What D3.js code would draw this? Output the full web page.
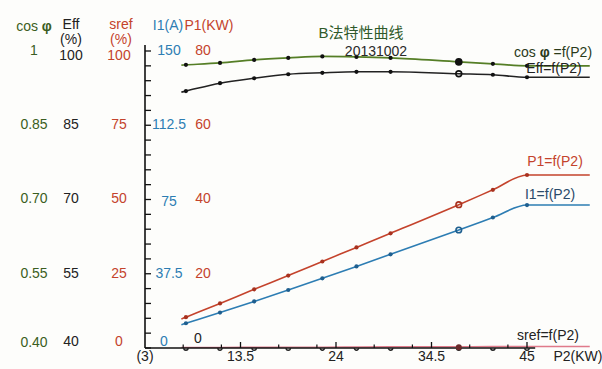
<!DOCTYPE html>
<html><head><meta charset="utf-8">
<script src="https://cdn.jsdelivr.net/npm/d3@7"></script>
<style>
html,body{margin:0;padding:0;background:#fdfdfb;}
svg{display:block;font-family:"Liberation Sans",Arial,Helvetica,sans-serif;}
</style></head><body>
<script>
// ---------- data ----------
const p2 = [7.5, 11.25, 15, 18.75, 22.5, 26.25, 30, 37.5, 41.25, 45];
const cosPhi = [0.972, 0.976, 0.982, 0.986, 0.989, 0.988, 0.986, 0.978, 0.974, 0.970];
const eff = [91.9, 93.5, 94.5, 95.3, 95.6, 95.8, 95.8, 95.4, 95.2, 94.7];
const p1 = [8.3, 12.0, 15.8, 19.5, 23.3, 27.1, 30.9, 38.6, 42.6, 46.6];
const i1 = [12.5, 17.9, 23.5, 29.3, 35.2, 41.2, 47.3, 59.6, 65.9, 72.2];
const sref = [0.2, 0.2, 0.25, 0.3, 0.3, 0.35, 0.4, 0.45, 0.5, 0.5];
const ratedIndex = 7;

const xTickVals = [3, 13.5, 24, 34.5, 45];
const xTickLabels = ["(3)", "13.5", "24", "34.5", "45"];
const cosTicks = ["1", "0.85", "0.70", "0.55", "0.40"];
const effTicks = ["100", "85", "70", "55", "40"];
const srefTicks = ["100", "75", "50", "25", "0"];
const i1Ticks = ["150", "112.5", "75", "37.5", "0"];
const p1Ticks = ["80", "60", "40", "20", "0"];

const title = "B法特性曲线";
const subtitle = "20131002";

// ---------- setup ----------
const W = 602, H = 369;
const svg = d3.select("body").append("svg").attr("width", W).attr("height", H);
svg.append("rect").attr("width", W).attr("height", H).attr("fill", "#fdfdfb");

const x = d3.scaleLinear().domain([3, 45]).range([145, 527]);
const yTop = 51, yBot = 348;
const yCos = d3.scaleLinear().domain([0.4, 1]).range([yBot, yTop]);
const yEff = d3.scaleLinear().domain([40, 100]).range([yBot, yTop]);
const ySref = d3.scaleLinear().domain([0, 100]).range([yBot, yTop]);
const yI = d3.scaleLinear().domain([0, 150]).range([yBot, yTop]);
const yP = d3.scaleLinear().domain([0, 80]).range([yBot, yTop]);

const C = {green:"#3b5d22", cosLine:"#557e26", black:"#222", red:"#c4432c", blue:"#2d7db3", pink:"#e07a8a"};

// ---------- axes ----------
const axisG = svg.append("g");
axisG.append("line").attr("x1", 145).attr("x2", 145).attr("y1", 45).attr("y2", yBot)
  .attr("stroke", "#111").attr("stroke-width", 1.6);
axisG.selectAll(".yt").data(d3.range(0, 150 + 0.01, 7.5)).join("line")
  .attr("x1", 145).attr("x2", 151).attr("y1", d => yI(d)).attr("y2", d => yI(d))
  .attr("stroke", "#111").attr("stroke-width", 1.3);

const extEnd = 51.9, extStart = 7.0;
function series(vals){
  const pts = p2.map((v,i)=>[v, vals[i]]);
  const s = (pts[1][1]-pts[0][1])/(pts[1][0]-pts[0][0]);
  const first = [extStart, pts[0][1] - s*(pts[0][0]-extStart)];
  const last = [extEnd, pts[pts.length-1][1]];
  return [first, ...pts, last];
}
function drawCurve(vals, ys, color, w){
  const line = d3.line().x(d=>x(d[0])).y(d=>ys(d[1])).curve(d3.curveMonotoneX);
  svg.append("path").attr("d", line(series(vals))).attr("fill","none")
    .attr("stroke", color).attr("stroke-width", w || 1.6);
}
drawCurve(sref, ySref, C.pink, 1.4);

axisG.append("line").attr("x1", 145).attr("x2", x(45.9)).attr("y1", yBot).attr("y2", yBot)
  .attr("stroke", "#111").attr("stroke-width", 1.6);
svg.node().appendChild(axisG.node());
axisG.selectAll(".xt").data(xTickVals.slice(1)).join("line")
  .attr("x1", d=>x(d)).attr("x2", d=>x(d)).attr("y1", yBot).attr("y2", yBot-6)
  .attr("stroke","#111").attr("stroke-width",1.3);
const minor = [];
xTickVals.slice(0,4).forEach(v => { minor.push(v+4.2, v+8.4); });
axisG.selectAll(".xm").data(minor).join("line")
  .attr("x1", d=>x(d)).attr("x2", d=>x(d)).attr("y1", yBot).attr("y2", yBot-3.5)
  .attr("stroke","#111").attr("stroke-width",1.2);
svg.selectAll(".xl").data(xTickVals).join("text")
  .attr("x", d=>x(d)).attr("y", 361).attr("text-anchor","middle")
  .attr("font-size", 14).attr("fill", "#222").text((d,i)=>xTickLabels[i]);
svg.append("text").attr("x", 578).attr("y", 361).attr("text-anchor","middle")
  .attr("font-size", 14).attr("fill","#222").text("P2(KW)");

svg.selectAll(".su").data(p2).join("path")
  .attr("d", d => { const px = x(d), py = ySref(0); const p = d3.path();
      p.moveTo(px-2.2, py); p.arc(px, py, 2.2, Math.PI, 0, true); return p.toString(); })
  .attr("fill","none").attr("stroke","#222").attr("stroke-width",1.4);
svg.append("circle").attr("cx", x(p2[ratedIndex])).attr("cy", ySref(sref[ratedIndex]) + 0.5)
  .attr("r", 3.0).attr("fill", "#6a2a2a");

// ---------- curves ----------
drawCurve(cosPhi, yCos, C.cosLine, 1.7);
drawCurve(eff, yEff, C.black, 1.6);
drawCurve(p1, yP, C.red, 1.6);
drawCurve(i1, yI, C.blue, 1.6);

function drawDots(vals, ys, fill, big, hollowBig){
  svg.selectAll(null).data(p2).join("circle")
    .attr("cx", d=>x(d)).attr("cy", (d,i)=>ys(vals[i]))
    .attr("r", (d,i)=> i===ratedIndex ? big : 2.1)
    .attr("fill", (d,i)=> (i===ratedIndex && hollowBig) ? "none" : fill)
    .attr("stroke", fill).attr("stroke-width", (d,i)=> i===ratedIndex ? 1.6 : 0);
}
drawDots(cosPhi, yCos, "#111", 3.0, false);
drawDots(eff, yEff, "#111", 2.9, true);
drawDots(p1, yP, "#a8321f", 2.8, true);
drawDots(i1, yI, "#1f5f8f", 2.8, true);

// ---------- left tick columns ----------
const rowVals = [150, 112.5, 75, 37.5, 0];
function col(labels, cx, color, size, dy){
  return svg.selectAll(null).data(labels).join("text")
    .attr("x", cx).attr("y", (d,i)=> yI(rowVals[i]) + (dy ? dy[i] : 0))
    .attr("text-anchor","middle").attr("dominant-baseline","central")
    .attr("font-size", size).attr("fill", color).text(d=>d);
}
col(cosTicks, 34, C.green, 14, [-1,-1,-2,-1,-6]);
col(effTicks, 71, C.black, 14, [4,-1,-2,-1,-7]);
col(srefTicks, 119, C.red, 14, [4,-1,-2,-1,-7]);
col(i1Ticks, 169, C.blue, 14, [-1,-1,1,-1,-7])
  .filter((d,i)=> i===4).attr("x", 164);
col(p1Ticks, 203, C.red, 14, [-1,-1,-2,-1,-10])
  .filter((d,i)=> i===4).attr("x", 198).attr("fill", "#222");

// ---------- header labels ----------
const hdr = svg.append("g").attr("font-size", 14);
const cosT = hdr.append("text").attr("x", 34).attr("y", 31).attr("text-anchor","middle").attr("fill", C.green);
cosT.append("tspan").text("cos ");
cosT.append("tspan").attr("font-weight","bold").text("φ");
hdr.append("text").attr("x", 71).attr("y", 29).attr("text-anchor","middle").attr("fill", C.black).text("Eff");
hdr.append("text").attr("x", 71).attr("y", 44).attr("text-anchor","middle").attr("fill", C.black).text("(%)");
hdr.append("text").attr("x", 121).attr("y", 29).attr("text-anchor","middle").attr("fill", C.red).text("sref");
hdr.append("text").attr("x", 121).attr("y", 44).attr("text-anchor","middle").attr("fill", C.red).text("(%)");
hdr.append("text").attr("x", 168).attr("y", 30).attr("text-anchor","middle").attr("fill", C.blue).text("I1(A)");
hdr.append("text").attr("x", 209).attr("y", 30).attr("text-anchor","middle").attr("fill", C.red).text("P1(KW)");

// ---------- title ----------
svg.append("text").attr("x", 361).attr("y", 38).attr("text-anchor","middle")
  .attr("font-family", "'Liberation Sans','Noto Sans CJK SC',sans-serif")
  .attr("font-size", 15).attr("fill", "#2f5a2a").text(title);
svg.append("text").attr("x", 376).attr("y", 56).attr("text-anchor","middle")
  .attr("font-size", 14).attr("fill", "#2a2a2a").text(subtitle);

// ---------- curve labels ----------
const lab = svg.append("g").attr("font-size", 14).attr("text-anchor","middle");
const cl = lab.append("text").attr("x", 553).attr("y", 57).attr("fill", "#2a3a1a");
cl.append("tspan").text("cos ");
cl.append("tspan").attr("font-weight","bold").text("φ");
cl.append("tspan").text(" =f(P2)");
lab.append("text").attr("x", 554).attr("y", 73).attr("fill", "#222").text("Eff=f(P2)");
lab.append("text").attr("x", 555).attr("y", 166).attr("fill", C.red).text("P1=f(P2)");
lab.append("text").attr("x", 550).attr("y", 199).attr("fill", "#2a4a6a").text("I1=f(P2)");
lab.append("text").attr("x", 548).attr("y", 340).attr("fill", "#222").text("sref=f(P2)");
</script>
</body></html>
